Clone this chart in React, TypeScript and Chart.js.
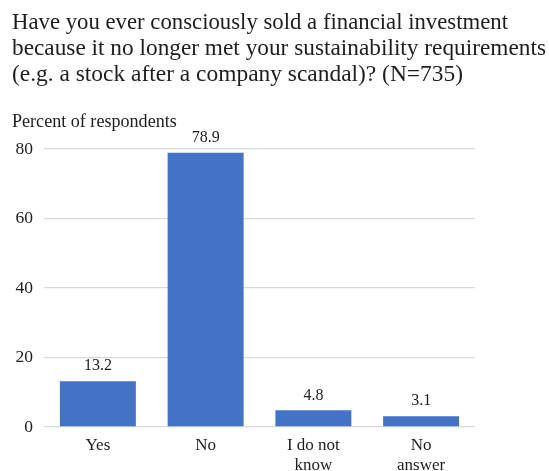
import React, { useEffect, useRef } from "react";
import { Chart, registerables } from "chart.js";

Chart.register(...registerables);

const titleLines = [
  "Have you ever consciously sold a financial investment",
  "because it no longer met your sustainability requirements",
  "(e.g. a stock after a company scandal)? (N=735)",
];
const titleWidths = [496, 534, 451];
const axisTitle = "Percent of respondents";
const categories: (string | string[])[] = ["Yes", "No", ["I do not", "know"], ["No", "answer"]];
const values = [13.2, 78.9, 4.8, 3.1];
const valueLabels = ["13.2", "78.9", "4.8", "3.1"];
const yTicks = [0, 20, 40, 60, 80];

const FAMILY = "Liberation Serif";
const FONT = `"Liberation Serif", serif`;
const TEXT = "#1e1e1e";

function fitSize(ctx: CanvasRenderingContext2D, text: string, target: number) {
  ctx.font = `20px ${FONT}`;
  const w = ctx.measureText(text).width;
  return Math.round(((20 * target) / w) * 10) / 10;
}

export default function App() {
  const ref = useRef<HTMLCanvasElement | null>(null);
  useEffect(() => {
    document.body.style.margin = "0";
    const canvas = ref.current!;
    const textPlugin = {
      id: "texts",
      afterDraw(chart: any) {
        const ctx = chart.ctx as CanvasRenderingContext2D;
        ctx.save();
        ctx.fillStyle = TEXT;
        ctx.textAlign = "left";
        ctx.textBaseline = "alphabetic";
        const ts = fitSize(ctx, titleLines[1], titleWidths[1]);
        ctx.font = `${ts}px ${FONT}`;
        const baselines = [29, 55, 81];
        titleLines.forEach((l, i) => {
          const w = ctx.measureText(l).width;
          const sx = titleWidths[i] / w;
          ctx.save();
          ctx.translate(12, baselines[i]);
          ctx.scale(sx, 1);
          ctx.fillText(l, 0, 0);
          ctx.restore();
        });
        const as = fitSize(ctx, axisTitle, 165);
        ctx.font = `${as}px ${FONT}`;
        ctx.fillText(axisTitle, 12, 127);
        ctx.textAlign = "center";
        ctx.textBaseline = "middle";
        ctx.font = `16px ${FONT}`;
        const meta = chart.getDatasetMeta(0);
        meta.data.forEach((bar: any, i: number) => {
          ctx.fillText(valueLabels[i], bar.x, bar.y - 15);
        });
        ctx.restore();
      },
    };
    const chart = new Chart(canvas, {
      type: "bar",
      data: {
        labels: categories as any,
        datasets: [
          {
            data: values,
            backgroundColor: "#4472C4",
            borderWidth: 0,
            categoryPercentage: 1,
            barPercentage: 0.705,
          },
        ],
      },
      options: {
        responsive: false,
        animation: false,
        layout: { padding: { top: 149, right: 74, left: 0, bottom: 0 } },
        plugins: {
          legend: { display: false },
          tooltip: { enabled: false },
          title: { display: false },
        },
        scales: {
          x: {
            grid: { display: false },
            border: { display: false },
            afterFit: (axis: any) => {
              axis.height = 44;
            },
            ticks: {
              color: TEXT,
              font: { family: FAMILY, size: 17, lineHeight: 1.15 },
              padding: 1,
              maxRotation: 0,
              autoSkip: false,
            },
          },
          y: {
            min: 0,
            max: 80,
            afterBuildTicks: (axis: any) => {
              axis.ticks = yTicks.map((v) => ({ value: v }));
            },
            afterFit: (axis: any) => {
              axis.width = 44;
            },
            grid: { color: "#d9d9d9", lineWidth: 1.3, drawTicks: false },
            border: { display: false },
            ticks: {
              color: TEXT,
              font: { family: FAMILY, size: 17.5 },
              padding: 11,
            },
          },
        },
      },
      plugins: [textPlugin],
    });
    return () => chart.destroy();
  }, []);
  return (
    <div style={{ position: "absolute", left: 0, top: 0, width: 549, height: 471, background: "#fff" }}>
      <canvas ref={ref} width={549} height={471} style={{ width: 549, height: 471 }} />
    </div>
  );
}
